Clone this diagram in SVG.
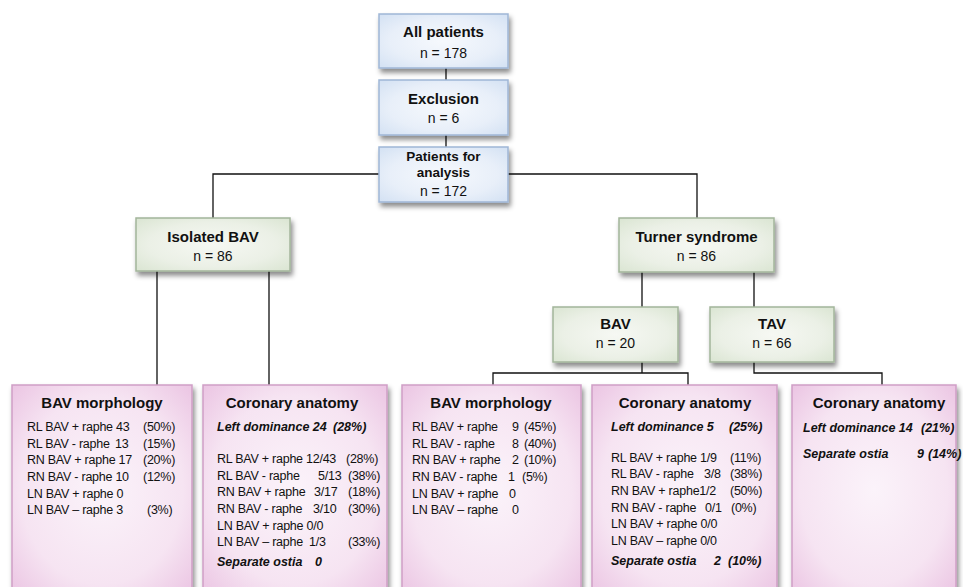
<svg xmlns="http://www.w3.org/2000/svg" width="963" height="587" viewBox="0 0 963 587">
<defs>
<radialGradient id="gBlue" cx="0.5" cy="0.5" r="0.7"><stop offset="0" stop-color="#f6f9fd"/><stop offset="0.6" stop-color="#e8eff9"/><stop offset="1" stop-color="#d3e1f3"/></radialGradient>
<radialGradient id="gGreen" cx="0.5" cy="0.5" r="0.7"><stop offset="0" stop-color="#f6f8f3"/><stop offset="0.6" stop-color="#ebf0e6"/><stop offset="1" stop-color="#dae5d2"/></radialGradient>
<radialGradient id="gPink" cx="0.5" cy="0.5" r="0.75"><stop offset="0" stop-color="#fbf3fa"/><stop offset="0.6" stop-color="#f6e4f2"/><stop offset="1" stop-color="#e9bfe0"/></radialGradient>
<filter id="sh" x="-10%" y="-10%" width="130%" height="140%"><feDropShadow dx="2" dy="4" stdDeviation="2.5" flood-color="#000" flood-opacity="0.45"/></filter>
</defs>
<style>
.blue{fill:url(#gBlue);stroke:#9fb6d6;stroke-width:1.5;filter:url(#sh)}
.green{fill:url(#gGreen);stroke:#a3b59b;stroke-width:1.5;filter:url(#sh)}
.pink{fill:url(#gPink);stroke:#cf9ec6;stroke-width:1.5;filter:url(#sh)}
text{font-family:"Liberation Sans",Arial,sans-serif;fill:#111}
.t{font-size:15px;font-weight:bold;text-anchor:middle}
.t2{font-size:13.5px;font-weight:bold;text-anchor:middle}
.n{font-size:14px;text-anchor:middle}
.b{font-size:12.5px;letter-spacing:-0.25px}
.i{font-size:12.5px;font-weight:bold;font-style:italic}
.c{fill:none;stroke:#111;stroke-width:1.3}
</style>

<g id="connectors">
<path class="c" d="M446 68V80M446 135V147"/>
<path class="c" d="M379 174H213V218M508 174H697V218"/>
<path class="c" d="M157 271V385M269 271V385"/>
<path class="c" d="M642 272V307M754 272V307"/>
<path class="c" d="M642 362V373M493 385V373H688V385"/>
<path class="c" d="M754 362V373H882V385"/>
</g>

<g id="all-patients">
<rect class="blue" x="379" y="14" width="129" height="54"/>
<text class="t" x="443.5" y="37">All patients</text>
<text class="n" x="443.5" y="58">n = 178</text>
</g>
<g id="exclusion">
<rect class="blue" x="379" y="80" width="129" height="55"/>
<text class="t" x="443.5" y="104">Exclusion</text>
<text class="n" x="443.5" y="123">n = 6</text>
</g>
<g id="patients-analysis">
<rect class="blue" x="379" y="147" width="129" height="55"/>
<text class="t2" x="443.5" y="161">Patients for</text>
<text class="t2" x="443.5" y="177">analysis</text>
<text class="n" x="443.5" y="196">n = 172</text>
</g>

<g id="isolated-bav">
<rect class="green" x="136" y="218" width="154" height="53"/>
<text class="t" x="213" y="242">Isolated BAV</text>
<text class="n" x="213" y="261">n = 86</text>
</g>
<g id="turner">
<rect class="green" x="619" y="218" width="155" height="54"/>
<text class="t" x="696.5" y="242">Turner syndrome</text>
<text class="n" x="696.5" y="261">n = 86</text>
</g>
<g id="bav">
<rect class="green" x="553" y="307" width="125" height="55"/>
<text class="t" x="615.5" y="329">BAV</text>
<text class="n" x="615.5" y="348">n = 20</text>
</g>
<g id="tav">
<rect class="green" x="710" y="307" width="124" height="55"/>
<text class="t" x="772" y="329">TAV</text>
<text class="n" x="772" y="348">n = 66</text>
</g>

<g id="iso-morphology">
<rect class="pink" x="12" y="385" width="180" height="210"/>
<text class="t" x="102" y="408">BAV morphology</text>
<text class="b" x="27" y="431">RL BAV + raphe 43<tspan x="143">(50%)</tspan></text>
<text class="b" x="27" y="448">RL BAV - raphe <tspan x="115">13</tspan><tspan x="143">(15%)</tspan></text>
<text class="b" x="27" y="464">RN BAV + raphe 17<tspan x="143">(20%)</tspan></text>
<text class="b" x="27" y="481">RN BAV - raphe 10<tspan x="143">(12%)</tspan></text>
<text class="b" x="27" y="498">LN BAV + raphe 0</text>
<text class="b" x="27" y="514">LN BAV – raphe 3<tspan x="147">(3%)</tspan></text>
</g>

<g id="iso-coronary">
<rect class="pink" x="203" y="385" width="184" height="210"/>
<text class="t" x="292" y="408">Coronary anatomy</text>
<text class="i" x="217" y="431">Left dominance 24 <tspan x="333">(28%)</tspan></text>
<text class="b" x="217" y="463">RL BAV + raphe 12/43 <tspan x="346">(28%)</tspan></text>
<text class="b" x="217" y="480">RL BAV - raphe <tspan x="318">5/13</tspan><tspan x="348">(38%)</tspan></text>
<text class="b" x="217" y="496">RN BAV + raphe <tspan x="314">3/17</tspan><tspan x="348">(18%)</tspan></text>
<text class="b" x="217" y="513">RN BAV - raphe <tspan x="313">3/10</tspan><tspan x="348">(30%)</tspan></text>
<text class="b" x="217" y="530">LN BAV + raphe 0/0</text>
<text class="b" x="217" y="546">LN BAV – raphe <tspan x="309">1/3</tspan><tspan x="348">(33%)</tspan></text>
<text class="i" x="217" y="566">Separate ostia <tspan x="315">0</tspan></text>
</g>

<g id="turner-morphology">
<rect class="pink" x="402" y="385" width="179" height="210"/>
<text class="t" x="491" y="408">BAV morphology</text>
<text class="b" x="412" y="431">RL BAV + raphe <tspan x="512">9</tspan><tspan x="524">(45%)</tspan></text>
<text class="b" x="412" y="448">RL BAV - raphe <tspan x="512">8</tspan><tspan x="524">(40%)</tspan></text>
<text class="b" x="412" y="464">RN BAV + raphe <tspan x="512">2</tspan><tspan x="524">(10%)</tspan></text>
<text class="b" x="412" y="481">RN BAV - raphe <tspan x="508">1</tspan><tspan x="522">(5%)</tspan></text>
<text class="b" x="412" y="498">LN BAV + raphe <tspan x="509">0</tspan></text>
<text class="b" x="412" y="514">LN BAV – raphe <tspan x="512">0</tspan></text>
</g>

<g id="turner-coronary">
<rect class="pink" x="592" y="385" width="185" height="210"/>
<text class="t" x="685" y="408">Coronary anatomy</text>
<text class="i" x="611" y="431">Left dominance 5 <tspan x="729">(25%)</tspan></text>
<text class="b" x="611" y="462">RL BAV + raphe 1/9 <tspan x="730">(11%)</tspan></text>
<text class="b" x="611" y="478">RL BAV - raphe <tspan x="704">3/8</tspan><tspan x="730">(38%)</tspan></text>
<text class="b" x="611" y="495">RN BAV + raphe1/2 <tspan x="730">(50%)</tspan></text>
<text class="b" x="611" y="512">RN BAV - raphe <tspan x="705">0/1</tspan><tspan x="731">(0%)</tspan></text>
<text class="b" x="611" y="528">LN BAV + raphe 0/0</text>
<text class="b" x="611" y="545">LN BAV – raphe 0/0</text>
<text class="i" x="611" y="565">Separate ostia <tspan x="714">2</tspan><tspan x="728">(10%)</tspan></text>
</g>

<g id="tav-coronary">
<rect class="pink" x="792" y="385" width="164" height="210"/>
<text class="t" x="879" y="408">Coronary anatomy</text>
<text class="i" x="803" y="432">Left dominance 14 <tspan x="921">(21%)</tspan></text>
<text class="i" x="803" y="458">Separate ostia <tspan x="917">9</tspan><tspan x="928">(14%)</tspan></text>
</g>
</svg>
